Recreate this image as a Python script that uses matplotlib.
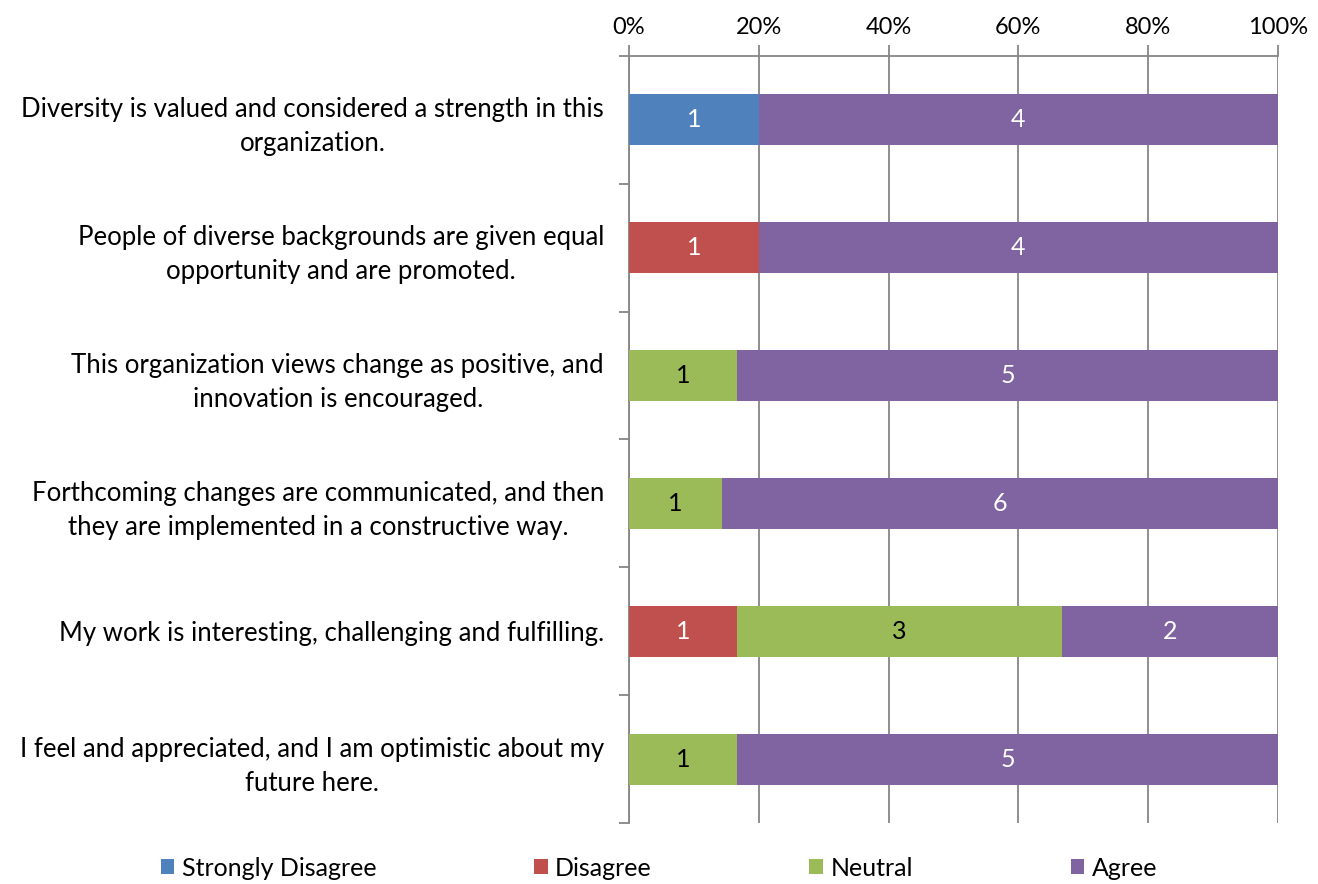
import matplotlib.pyplot as plt
import numpy as np
from matplotlib.patches import Patch

plt.rcParams['font.family'] = ['Lato', 'DejaVu Sans']

statements = [
    "Diversity is valued and considered a strength in this\norganization.",
    "People of diverse backgrounds are given equal\nopportunity and are promoted.",
    "This organization views change as positive, and\ninnovation is encouraged.",
    "Forthcoming changes are communicated, and then\nthey are implemented in a constructive way.",
    "My work is interesting, challenging and fulfilling.",
    "I feel and appreciated, and I am optimistic about my\nfuture here.",
]
responses = ["Strongly Disagree", "Disagree", "Neutral", "Agree"]
strongly_disagree = [1, 0, 0, 0, 0, 0]
disagree = [0, 1, 0, 0, 1, 0]
neutral = [0, 0, 1, 1, 3, 1]
agree = [4, 4, 5, 6, 2, 5]

colors = ["#4F81BD", "#C0504D", "#9BBB59", "#8064A2"]
text_colors = ["white", "white", "black", "white"]
grid_col = "#868686"

counts = np.array([strongly_disagree, disagree, neutral, agree], dtype=float)
shares = counts / counts.sum(axis=0)

fig = plt.figure(figsize=(13.18, 8.84), dpi=100)
ax = fig.add_axes([0.4772, 0.069, 0.4925, 0.8677])

y = np.arange(len(statements))
left = np.zeros(len(statements))
for i, name in enumerate(responses):
    ax.barh(y, shares[i], left=left, height=0.4, color=colors[i],
            label=name, zorder=3)
    for j in range(len(statements)):
        if counts[i, j] > 0:
            ax.text(left[j] + shares[i, j] / 2, y[j], f"{int(counts[i, j])}",
                    ha="center", va="center", fontsize=18,
                    color=text_colors[i], zorder=4)
    left += shares[i]

ax.set_xlim(0, 1)
ax.set_ylim(len(statements) - 0.5, -0.5)

# percentage axis on top
ax.xaxis.tick_top()
ax.set_xticks(np.linspace(0, 1, 6))
ax.set_xticklabels([f"{p}%" for p in range(0, 101, 20)], fontsize=17)
ax.tick_params(axis="x", which="major", length=8, width=1.3, color=grid_col, pad=5)
ax.grid(axis="x", color=grid_col, linewidth=1.3, zorder=0)

# category labels with boundary tick marks
ax.set_yticks(y)
ax.set_yticklabels(statements, fontsize=18.5, multialignment="center",
                   linespacing=1.45)
ax.tick_params(axis="y", which="major", length=0, pad=18)
ax.set_yticks(np.arange(len(statements) + 1) - 0.5, minor=True)
ax.tick_params(axis="y", which="minor", length=7, width=1.3, color=grid_col)

for side in ["right", "bottom"]:
    ax.spines[side].set_visible(False)
for side in ["left", "top"]:
    ax.spines[side].set_color(grid_col)
    ax.spines[side].set_linewidth(1.3)

handles = [Patch(facecolor=c) for c in colors]
fig.legend(handles, responses, loc="center", bbox_to_anchor=(0.5, 0.018),
           ncol=4, frameon=False, fontsize=18, handlelength=0.55,
           handleheight=0.55, handletextpad=0.3, columnspacing=6.3)

fig.savefig("out.png", dpi=100)
